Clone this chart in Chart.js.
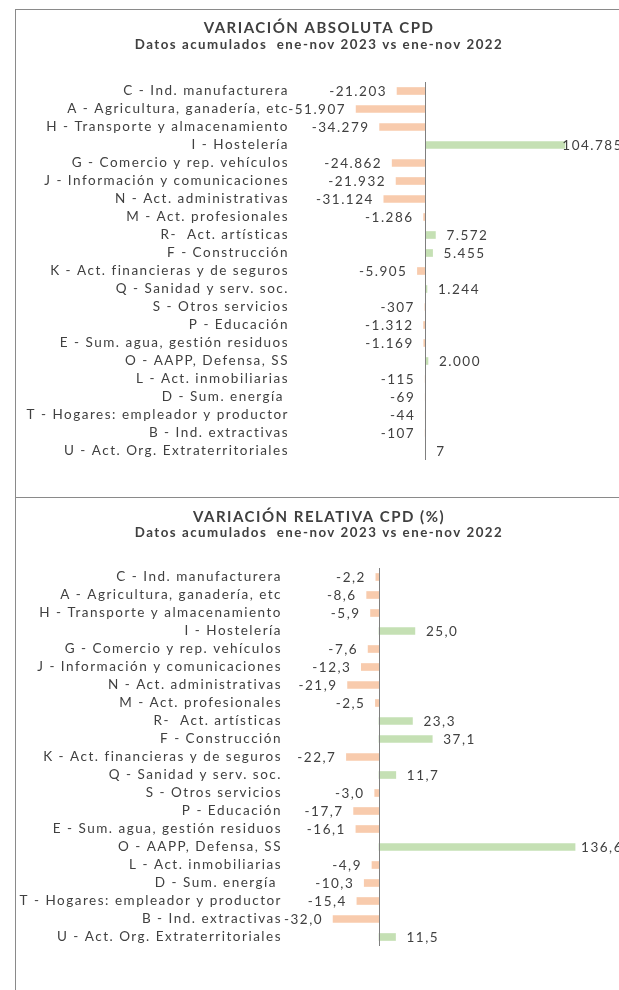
<!DOCTYPE html>
<html>
<head>
<meta charset="utf-8">
<script src="https://cdn.jsdelivr.net/npm/chart.js@4.4.0/dist/chart.umd.min.js"></script>
<style>
  body { margin: 0; background: #fff; overflow: hidden; width: 619px; height: 990px; position: relative; }
  .panel { position: absolute; left: 15px; width: 660px; border: 1px solid #8a8a8a; border-right: none; }
  canvas { position: absolute; left: 15px; }
</style>
</head>
<body>
<div class="panel" style="top:9px; height:487px;"></div>
<div class="panel" style="top:497px; height:520px; border-bottom:none;"></div>
<canvas id="abs-chart" width="608" height="487" style="top:10px;"></canvas>
<canvas id="rel-chart" width="608" height="492" style="top:498px;"></canvas>
<script>
var sectores = [
  "C - Ind. manufacturera",
  "A - Agricultura, ganadería, etc",
  "H - Transporte y almacenamiento",
  "I - Hostelería",
  "G - Comercio y rep. vehículos",
  "J - Información y comunicaciones",
  "N - Act. administrativas",
  "M - Act. profesionales",
  "R-  Act. artísticas",
  "F - Construcción",
  "K - Act. financieras y de seguros",
  "Q - Sanidad y serv. soc.",
  "S - Otros servicios",
  "P - Educación",
  "E - Sum. agua, gestión residuos",
  "O - AAPP, Defensa, SS",
  "L - Act. inmobiliarias",
  "D - Sum. energía ",
  "T - Hogares: empleador y productor",
  "B - Ind. extractivas",
  "U - Act. Org. Extraterritoriales"
];

var variacionAbsoluta = [-21203, -51907, -34279, 104785, -24862, -21932, -31124, -1286, 7572, 5455,
  -5905, 1244, -307, -1312, -1169, 2000, -115, -69, -44, -107, 7];

var variacionRelativa = [-2.2, -8.6, -5.9, 25.0, -7.6, -12.3, -21.9, -2.5, 23.3, 37.1,
  -22.7, 11.7, -3.0, -17.7, -16.1, 136.6, -4.9, -10.3, -15.4, -32.0, 11.5];

var subtitulo = "Datos acumulados  ene-nov 2023 vs ene-nov 2022";

var NEG = "#F8CBAD";
var POS = "#C5E0B4";
var TEXT = "#404040";
var FONT = "Lato";
var SIZE = 13.5;
var SPACING = "1.5px";

// numbers in spanish format
function fmtAbs(v){
  var s = Math.abs(v).toString().replace(/\B(?=(\d{3})+(?!\d))/g, ".");
  return (v < 0 ? "-" : "") + s;
}

function fmtRel(v){
  return v.toFixed(1).replace(".", ",");
}

function colores(vals){
  return vals.map(function(v){ return v < 0 ? NEG : POS; });
}

// excel-like wide text
var spacingPlugin = {
  id: "spacing",
  beforeUpdate: function(chart){ chart.ctx.letterSpacing = SPACING; },
  beforeDraw: function(chart){ chart.ctx.letterSpacing = SPACING; }
};

// vertical axis at zero and the value labels
var labelsPlugin = {
  id: "valueLabels",
  afterDatasetsDraw: function(chart, args, opts){
    var ctx = chart.ctx;
    var x0 = Math.round(chart.scales.x.getPixelForValue(0)) + 0.5;
    var area = chart.chartArea;

    ctx.save();
    ctx.strokeStyle = "#7F7F7F";
    ctx.lineWidth = 1;
    ctx.beginPath();
    ctx.moveTo(x0, area.top);
    ctx.lineTo(x0, area.bottom);
    ctx.stroke();

    ctx.font = SIZE + "px " + FONT;
    ctx.fillStyle = TEXT;
    ctx.textBaseline = "middle";
    ctx.textAlign = "left";
    var meta = chart.getDatasetMeta(0);
    var data = chart.data.datasets[0].data;
    meta.data.forEach(function(bar, i){
      var v = data[i];
      var txt = opts.format(v);
      var w = ctx.measureText(txt).width;
      var x;
      if (v < 0) {
        x = bar.x - 10 - w;
      } else {
        x = bar.x + 11;
        if (x + w > chart.width) x = chart.width - w;
      }
      ctx.fillText(txt, x, bar.y + 1);
    });
    ctx.restore();
  }
};

function buildChart(id, title, vals, opts){
  var ctx = document.getElementById(id);
  return new Chart(ctx, {
    type: "bar",
    data: {
      labels: sectores,
      datasets: [{
        data: vals,
        backgroundColor: colores(vals),
        barThickness: 7,
        borderWidth: 0
      }]
    },
    plugins: [spacingPlugin, labelsPlugin],
    options: {
      indexAxis: "y",
      responsive: false,
      animation: false,
      layout: { padding: { top: 0, left: 0, right: 0, bottom: opts.padBottom } },
      scales: {
        x: {
          display: false,
          min: opts.min,
          max: opts.max
        },
        y: {
          grid: { display: false, drawTicks: false },
          border: { display: false },
          ticks: {
            color: TEXT,
            padding: 3,
            autoSkip: false,
            font: { family: FONT, size: SIZE }
          },
          afterFit: function(scale){ scale.width = opts.axisWidth; }
        }
      },
      plugins: {
        legend: { display: false },
        tooltip: { enabled: false },
        title: {
          display: true,
          text: title,
          color: TEXT,
          font: { family: FONT, size: 15, weight: "bold", lineHeight: "18px" },
          padding: { top: opts.titleTop, bottom: 0 }
        },
        subtitle: {
          display: true,
          text: subtitulo,
          color: TEXT,
          font: { family: FONT, size: 13.3, weight: "bold", lineHeight: "14px" },
          padding: { top: opts.subTop, bottom: opts.subBottom }
        },
        valueLabels: { format: opts.format }
      }
    }
  });
}

buildChart("abs-chart", "VARIACIÓN ABSOLUTA CPD", variacionAbsoluta, {
  min: -100000, max: 148300, axisWidth: 277,
  titleTop: 9, subTop: 1, subBottom: 30, padBottom: 37,
  format: fmtAbs
});

buildChart("rel-chart", "VARIACIÓN RELATIVA CPD (%)", variacionRelativa, {
  min: -65.5, max: 170, axisWidth: 270,
  titleTop: 10, subTop: 0, subBottom: 28, padBottom: 44,
  format: fmtRel
});
</script>
</body>
</html>
